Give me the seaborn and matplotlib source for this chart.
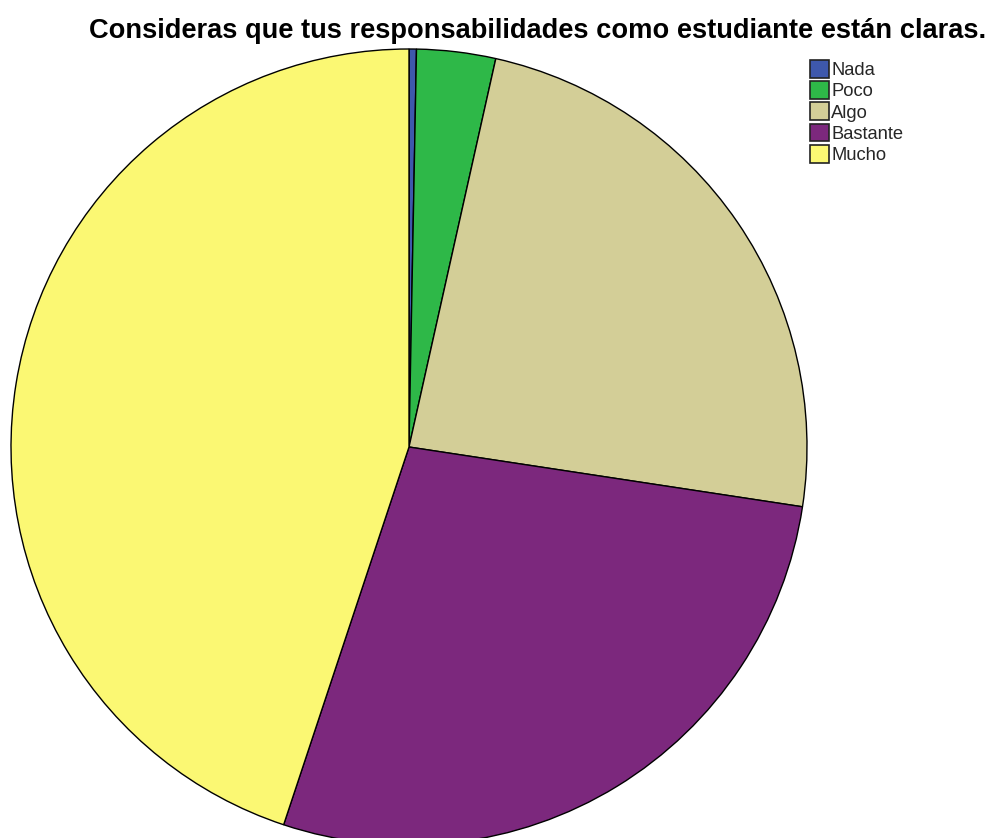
import matplotlib
matplotlib.use("Agg")
import matplotlib.pyplot as plt
import seaborn as sns
from matplotlib.patches import Patch

sns.set_theme(style="white")
plt.rcParams["font.family"] = ["Liberation Sans", "DejaVu Sans"]

categories = ["Nada", "Poco", "Algo", "Bastante", "Mucho"]
percentages = [0.3, 3.2, 23.9, 27.7, 44.9]
colors = sns.color_palette(["#3E58AC", "#2EB848", "#D3CE97", "#7C287D", "#FBF873"])
title = "Consideras que tus responsabilidades como estudiante están claras."

W, H = 995, 838
fig = plt.figure(figsize=(W / 100, H / 100), dpi=100)
ax = fig.add_axes([0, 0, 1, 1])

wedges, _ = ax.pie(
    percentages,
    colors=colors,
    startangle=90,
    counterclock=False,
    center=(409, H - 447),
    radius=398,
    wedgeprops=dict(edgecolor="black", linewidth=1.0),
)
ax.set_xlim(0, W)
ax.set_ylim(0, H)
ax.set_aspect("equal")
ax.axis("off")

fig.text(538 / W, 1 - 38 / H, title, ha="center", va="baseline",
         fontsize=19.6, fontweight="bold", color="black")

handles = [Patch(facecolor=c, edgecolor="#222222", linewidth=1.2) for c in colors]
leg = fig.legend(handles, categories, loc="upper left",
                 bbox_to_anchor=(810 / W, 1 - 60 / H), frameon=False,
                 fontsize=13.2, handlelength=1.05, handleheight=1.1,
                 handletextpad=0.12, labelspacing=0.12, borderaxespad=0,
                 borderpad=0)

fig.savefig("out.png", dpi=100, facecolor="white")
